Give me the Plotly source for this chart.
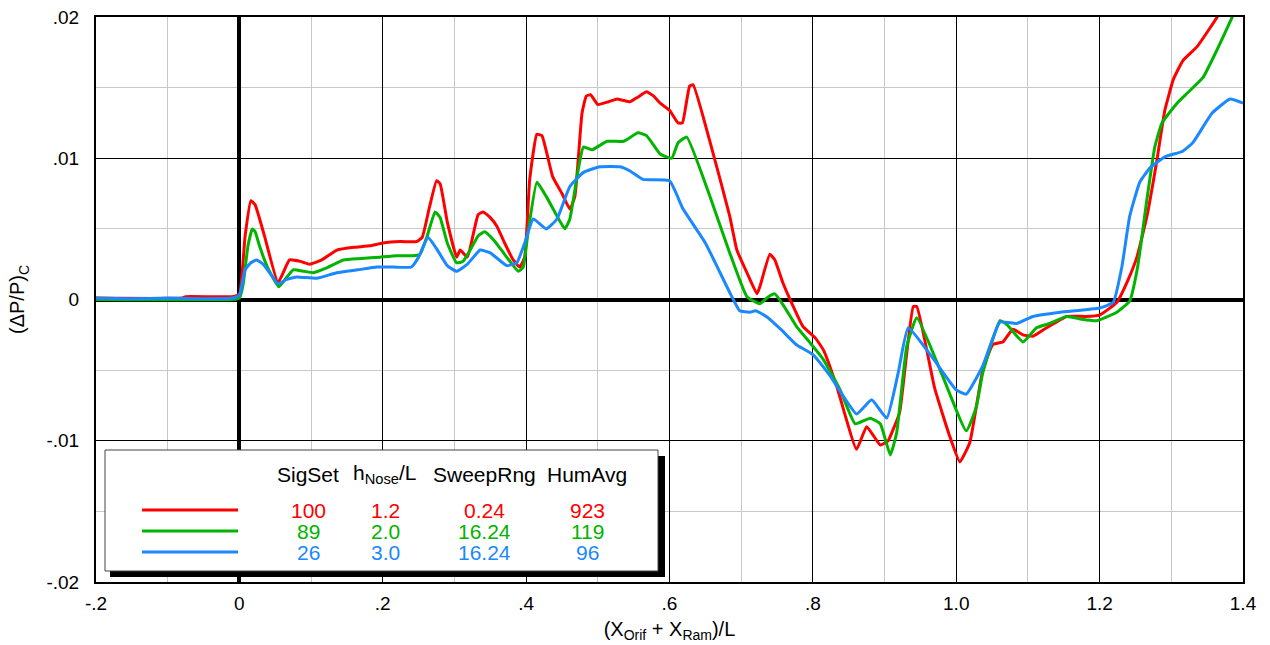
import plotly.graph_objects as go

# ---------------- data ----------------
red_x = [-0.2, -0.08, -0.075, -0.01, 0.0, 0.008, 0.016, 0.022, 0.035, 0.054, 0.07, 0.085, 0.098,
         0.115, 0.136, 0.16, 0.182, 0.2, 0.225, 0.247, 0.255, 0.265, 0.275, 0.28, 0.29, 0.303,
         0.308, 0.318, 0.333, 0.34, 0.35, 0.359, 0.37, 0.382, 0.391, 0.398, 0.405, 0.415, 0.422,
         0.437, 0.45, 0.461, 0.468, 0.478, 0.484, 0.49, 0.5, 0.515, 0.527, 0.535, 0.545, 0.555,
         0.568, 0.578, 0.587, 0.6, 0.612, 0.618, 0.628, 0.633, 0.66, 0.684, 0.694, 0.708, 0.722,
         0.726, 0.74, 0.747, 0.758, 0.77, 0.786, 0.803, 0.815, 0.833, 0.861, 0.875, 0.894, 0.905,
         0.912, 0.921, 0.94, 0.945, 0.97, 0.991, 1.005, 1.019, 1.037, 1.051, 1.065, 1.079, 1.093,
         1.107, 1.126, 1.154, 1.18, 1.2, 1.224, 1.238, 1.252, 1.266, 1.28, 1.291, 1.303, 1.316,
         1.336, 1.364, 1.38]
red_y = [0.0001, 0.0001, 0.0002, 0.0002, 0.0004, 0.0045, 0.0070, 0.0067, 0.0045, 0.0012, 0.0028,
         0.0027, 0.0025, 0.0028, 0.0035, 0.0037, 0.0038, 0.0040, 0.0041, 0.0041, 0.0044, 0.0065,
         0.0084, 0.0082, 0.0055, 0.0030, 0.0035, 0.0030, 0.0060, 0.0062, 0.0058, 0.0052, 0.0040,
         0.0028, 0.0023, 0.0030, 0.0085, 0.0117, 0.0116, 0.0087, 0.0075, 0.0064, 0.0073, 0.0132,
         0.0144, 0.0145, 0.0138, 0.0140, 0.0142, 0.0141, 0.0140, 0.0143, 0.0147, 0.0144, 0.0139,
         0.0134, 0.0125, 0.0125, 0.0151, 0.0152, 0.0105, 0.0059, 0.0035, 0.0019, 0.0004, 0.0009,
         0.0032, 0.0028, 0.0012, -0.0002, -0.0019, -0.0027, -0.0036, -0.0061, -0.0106, -0.0090,
         -0.0103, -0.0100, -0.0092, -0.0080, -0.0005, -0.0005, -0.0063, -0.0097, -0.0115, -0.0101,
         -0.0050, -0.0032, -0.0030, -0.0021, -0.0025, -0.0026, -0.0020, -0.0012, -0.0012, -0.0011,
         -0.0002, 0.0012, 0.0030, 0.0059, 0.0099, 0.0134, 0.0156, 0.0169, 0.0179, 0.0200, 0.0215]

green_x = [-0.2, -0.01, 0.0, 0.005, 0.012, 0.018, 0.022, 0.028, 0.04, 0.055, 0.065, 0.075, 0.09,
           0.103, 0.12, 0.145, 0.17, 0.196, 0.22, 0.242, 0.252, 0.262, 0.273, 0.28, 0.29, 0.303,
           0.312, 0.322, 0.333, 0.342, 0.355, 0.37, 0.389, 0.396, 0.402, 0.415, 0.428, 0.44, 0.454,
           0.461, 0.472, 0.48, 0.492, 0.513, 0.536, 0.556, 0.568, 0.587, 0.603, 0.612, 0.624,
           0.655, 0.684, 0.708, 0.726, 0.738, 0.747, 0.76, 0.777, 0.795, 0.814, 0.838, 0.859,
           0.88, 0.894, 0.908, 0.917, 0.931, 0.945, 0.98, 1.014, 1.028, 1.037, 1.061, 1.071,
           1.093, 1.112, 1.13, 1.154, 1.175, 1.196, 1.224, 1.242, 1.253, 1.266, 1.277, 1.287,
           1.308, 1.322, 1.344, 1.364, 1.385, 1.395]
green_y = [0.0, 0.0, 0.0001, 0.0010, 0.0038, 0.0050, 0.0048, 0.0038, 0.0022, 0.0009, 0.0015,
           0.0021, 0.0020, 0.0019, 0.0022, 0.0028, 0.0029, 0.0030, 0.0031, 0.0031, 0.0032, 0.0045,
           0.0062, 0.0058, 0.0040, 0.0026, 0.0027, 0.0035, 0.0045, 0.0048, 0.0042, 0.0032, 0.0020,
           0.0023, 0.0045, 0.0083, 0.0073, 0.0062, 0.0050, 0.0057, 0.0090, 0.0108, 0.0106, 0.0112,
           0.0112, 0.0118, 0.0116, 0.0103, 0.0100, 0.0111, 0.0115, 0.0075, 0.0033, 0.0002, -0.0003,
           0.0002, 0.0004, -0.0005, -0.0019, -0.0030, -0.0042, -0.0064, -0.0088, -0.0084, -0.0088,
           -0.0110, -0.0094, -0.0033, -0.0013, -0.0053, -0.0093, -0.0076, -0.0052, -0.0015, -0.0018,
           -0.0030, -0.0020, -0.0017, -0.0012, -0.0014, -0.0015, -0.0009, -0.0001, 0.0023, 0.0071,
           0.0108, 0.0125, 0.0139, 0.0146, 0.0157, 0.0177, 0.0200, 0.0212]

blue_x = [-0.2, -0.15, -0.1, -0.05, -0.01, 0.0, 0.008, 0.016, 0.024, 0.033, 0.045, 0.054, 0.065,
          0.08, 0.108, 0.136, 0.165, 0.192, 0.215, 0.24, 0.25, 0.263, 0.275, 0.29, 0.303, 0.318,
          0.336, 0.35, 0.373, 0.387, 0.398, 0.41, 0.428, 0.443, 0.461, 0.48, 0.503, 0.531, 0.545,
          0.563, 0.6, 0.619, 0.65, 0.684, 0.698, 0.712, 0.72, 0.735, 0.755, 0.777, 0.8, 0.824,
          0.861, 0.882, 0.903, 0.919, 0.933, 0.968, 1.0, 1.014, 1.037, 1.061, 1.084, 1.107, 1.145,
          1.2, 1.219, 1.231, 1.242, 1.256, 1.27, 1.291, 1.316, 1.33, 1.357, 1.382, 1.4]
blue_y = [0.0001, 0.00005, 0.0001, 0.00005, 0.0001, 0.0003, 0.0021, 0.0026, 0.0028, 0.0025,
          0.0017, 0.0011, 0.0014, 0.0016, 0.0015, 0.0019, 0.0021, 0.0023, 0.0023, 0.0023, 0.0030,
          0.0044, 0.0036, 0.0024, 0.0020, 0.0025, 0.0035, 0.0033, 0.0024, 0.0026, 0.0040, 0.0057,
          0.0050, 0.0057, 0.0080, 0.0090, 0.0094, 0.0094, 0.0091, 0.0085, 0.0084, 0.0064, 0.0040,
          0.0005, -0.0008, -0.0009, -0.0008, -0.0012, -0.0021, -0.0032, -0.0039, -0.0054, -0.0081,
          -0.0071, -0.0084, -0.0052, -0.0020, -0.0042, -0.0064, -0.0067, -0.0047, -0.0016, -0.0017,
          -0.0012, -0.0009, -0.0006, -0.0002, 0.0023, 0.0059, 0.0083, 0.0093, 0.0101, 0.0105,
          0.0111, 0.0132, 0.0142, 0.0139]

x_tick_vals = [-0.2, 0, 0.2, 0.4, 0.6, 0.8, 1.0, 1.2, 1.4]
x_tick_text = ["-.2", "0", ".2", ".4", ".6", ".8", "1.0", "1.2", "1.4"]
y_tick_vals = [-0.02, -0.01, 0, 0.01, 0.02]
y_tick_text = ["-.02", "-.01", "0", ".01", ".02"]

legend_header = ["SigSet", "h<sub>Nose</sub>/L", "SweepRng", "HumAvg"]
legend_rows = [["100", "1.2", "0.24", "923"],
               ["89", "2.0", "16.24", "119"],
               ["26", "3.0", "16.24", "96"]]
colors = ["#ff0000", "#00b400", "#1a88ff"]

# ---------------- figure ----------------
W, H = 1270, 645
L, R, T, B = 96, 27, 17, 63
PW, PH = W - L - R, H - T - B
FONT = "Liberation Sans, Arial, Helvetica, sans-serif"


def px(xp):
    return (xp - L) / PW


def py(yp):
    return (H - B - yp) / PH


fig = go.Figure()
for xs, ys, c in [(red_x, red_y, colors[0]), (green_x, green_y, colors[1]), (blue_x, blue_y, colors[2])]:
    fig.add_trace(go.Scatter(x=xs, y=ys, mode="lines",
                             line=dict(color=c, width=3, shape="spline", smoothing=0.4),
                             showlegend=False, hoverinfo="skip"))

fig.update_xaxes(range=[-0.2, 1.4], tickmode="array", tickvals=x_tick_vals, ticktext=x_tick_text,
                 automargin=False, ticklabeloverflow="allow",
                 showgrid=True, gridcolor="black", gridwidth=1.2,
                 minor=dict(dtick=0.1, tick0=0, showgrid=True, gridcolor="#c8c8c8", gridwidth=1.2),
                 zeroline=True, zerolinecolor="black", zerolinewidth=3.5,
                 showline=True, linecolor="black", linewidth=2, mirror=True,
                 ticks="outside", ticklen=3, tickcolor="rgba(0,0,0,0)",
                 tickfont=dict(family=FONT, size=19, color="black"),
                 title=dict(text="(X<sub>Orif</sub> + X<sub>Ram</sub>)/L",
                            font=dict(family=FONT, size=20, color="black"), standoff=9))
fig.update_yaxes(range=[-0.02, 0.02], tickmode="array", tickvals=y_tick_vals, ticktext=y_tick_text,
                 automargin=False, ticklabeloverflow="allow",
                 showgrid=True, gridcolor="black", gridwidth=1.2,
                 minor=dict(dtick=0.005, tick0=0, showgrid=True, gridcolor="#c8c8c8", gridwidth=1.2),
                 zeroline=True, zerolinecolor="black", zerolinewidth=3.5,
                 showline=True, linecolor="black", linewidth=2, mirror=True,
                 ticks="outside", ticklen=11, tickcolor="rgba(0,0,0,0)",
                 tickfont=dict(family=FONT, size=19, color="black"),
                 title=dict(text="(ΔP/P)<sub>C</sub>",
                            font=dict(family=FONT, size=20, color="black"), standoff=16))

shapes = []
# legend shadow and box
shapes.append(dict(type="rect", xref="paper", yref="paper", x0=px(110), x1=px(665), y0=py(577), y1=py(456),
                   fillcolor="black", line=dict(width=0)))
shapes.append(dict(type="rect", xref="paper", yref="paper", x0=px(105), x1=px(658), y0=py(571), y1=py(450),
                   fillcolor="white", line=dict(color="#444444", width=1)))
row_y = [510, 531, 552]
col_x = [308, 385, 484, 587]
for c, yy in zip(colors, row_y):
    shapes.append(dict(type="line", xref="paper", yref="paper", x0=px(142), x1=px(238), y0=py(yy), y1=py(yy),
                       line=dict(color=c, width=3)))

ann = []
for txt, xx in zip(legend_header, col_x):
    ann.append(dict(text=txt, xref="paper", yref="paper", x=px(xx), y=py(474), showarrow=False,
                    xanchor="center", yanchor="middle", font=dict(family=FONT, size=21, color="black")))
for row, c, yy in zip(legend_rows, colors, row_y):
    for txt, xx in zip(row, col_x):
        ann.append(dict(text=txt, xref="paper", yref="paper", x=px(xx), y=py(yy), showarrow=False,
                        xanchor="center", yanchor="middle", font=dict(family=FONT, size=21, color=c)))

fig.update_layout(width=W, height=H, margin=dict(l=L, r=R, t=T, b=B),
                  plot_bgcolor="white", paper_bgcolor="white",
                  shapes=shapes, annotations=ann, showlegend=False)

# remove the browser's default page margin so the figure starts at the window corner
fig.write_html("out.html", config={"displayModeBar": False},
               post_script="document.body.style.margin='0';")
